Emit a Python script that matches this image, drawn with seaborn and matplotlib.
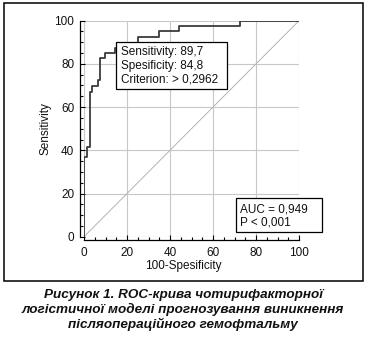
import matplotlib
matplotlib.use('Agg')
import matplotlib.pyplot as plt
import seaborn as sns
import pandas as pd
from matplotlib.ticker import MultipleLocator
from matplotlib.patches import Rectangle

# ---- data ----
fpr = [0, 0, 1.4, 2.8, 3.9, 6.5, 7.6, 9.9, 14.2, 15.2, 25.3, 35.0, 44.2, 72.6, 100]
tpr = [0, 36.8, 41.4, 67.1, 69.8, 72.5, 82.6, 84.9, 87.2, 89.7, 92.6, 95.1, 97.7, 100, 100]
diag = [0, 100]
ticks = [0, 20, 40, 60, 80, 100]
stats_lines = ["Sensitivity: 89,7", "Spesificity: 84,8", "Criterion: > 0,2962"]
auc_lines = ["AUC = 0,949", "P < 0,001"]
caption_lines = ["Рисунок 1. ROC-крива чотирифакторної",
                 "логістичної моделі прогнозування виникнення",
                 "післяопераційного гемофтальму"]
x_label = "100-Spesificity"
y_label = "Sensitivity"

sns.set_theme(style='ticks')
plt.rcParams['font.family'] = ['Liberation Sans', 'DejaVu Sans']

W, H = 368, 340
fig = plt.figure(figsize=(W / 100, H / 100), dpi=100)
fig.patch.set_facecolor('white')

FS = 8.5


def fx(px):
    return px / W


def fy(py):
    return 1 - py / H


ax = fig.add_axes([fx(84), fy(236.7), 215 / W, 216 / H])
ax.set_facecolor('white')

df = pd.DataFrame({'fpr': fpr, 'tpr': tpr})
sns.lineplot(x=diag, y=diag, color='#b4b4b4', linewidth=0.7, ax=ax, zorder=2)
sns.lineplot(data=df, x='fpr', y='tpr', estimator=None, sort=False,
             drawstyle='steps-post', color='#3c3c3c', linewidth=1.3, ax=ax, zorder=3)

ax.set_xlim(0, 100)
ax.set_ylim(0, 100)
ax.set_xticks(ticks)
ax.set_yticks(ticks)
ax.xaxis.set_minor_locator(MultipleLocator(5))
ax.yaxis.set_minor_locator(MultipleLocator(5))
ax.grid(True, which='major', color='#c8c8c8', linewidth=0.8)
for gl in ax.get_xgridlines() + ax.get_ygridlines():
    gl.set_clip_on(False)
ax.set_axisbelow(True)

sns.despine(ax=ax, offset={'left': 3, 'bottom': 2.2})
for s in ['left', 'bottom']:
    ax.spines[s].set_linewidth(0.9)
    ax.spines[s].set_color('black')
ax.tick_params(which='major', direction='in', length=3.6, width=0.8,
               labelsize=FS, pad=4, color='black', labelcolor='#111111')
ax.tick_params(axis='x', which='major', pad=5)
ax.tick_params(which='minor', direction='in', length=2.2, width=0.8, color='black')

ax.set_xlabel(x_label, fontsize=FS, color='#111111')
ax.set_ylabel(y_label, fontsize=FS, color='#111111')
ax.xaxis.set_label_coords((183 - 84) / 215, (236.7 - 265.5) / 216)
ax.xaxis.label.set_va('center')
ax.yaxis.set_label_coords((45 - 84) / 215, 0.5)
ax.yaxis.label.set_va('center')

# info box 1
ax.add_patch(Rectangle((fx(116), fy(88.5)), (227 - 116) / W, (88.5 - 41.5) / H,
                       transform=fig.transFigure, facecolor='white', edgecolor='black',
                       linewidth=0.9, zorder=5, clip_on=False))
for i, t in enumerate(stats_lines):
    ax.text(fx(121), fy(52 + 13.5 * i), t, transform=fig.transFigure, fontsize=FS,
            va='center', ha='left', color='#111111', zorder=6, clip_on=False)

# info box 2
ax.add_patch(Rectangle((fx(235.7), fy(231.7)), (321.7 - 235.7) / W, (231.7 - 198.3) / H,
                       transform=fig.transFigure, facecolor='white', edgecolor='black',
                       linewidth=0.9, zorder=5, clip_on=False))
for i, t in enumerate(auc_lines):
    ax.text(fx(240), fy(209.3 + 13.4 * i), t, transform=fig.transFigure, fontsize=FS,
            va='center', ha='left', color='#111111', zorder=6, clip_on=False)

# outer frame
fig.patches.append(Rectangle((fx(4), fy(281)), 359 / W, 278 / H, transform=fig.transFigure,
                             fill=False, edgecolor='black', linewidth=1.1, figure=fig))

# caption
fig.text(fx(183), fy(310), "\n".join(caption_lines), ha='center', va='center',
         fontsize=9.7, fontweight='bold', style='italic', linespacing=1.17, color='#111111')

fig.savefig('out.png', dpi=100, facecolor='white')
